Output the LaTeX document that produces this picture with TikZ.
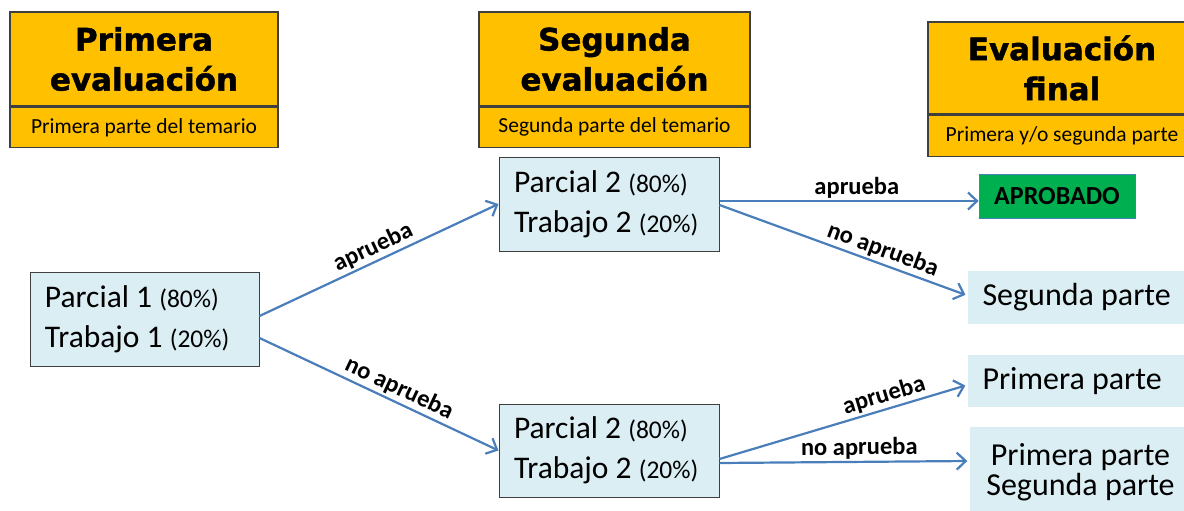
\documentclass[tikz,border=0pt]{standalone}
\usepackage{fontspec}
\setmainfont{Carlito}
\newfontfamily\titlefont{DejaVu Sans}[BoldFeatures={FakeBold=1.4}]
\usetikzlibrary{arrows.meta}
\definecolor{evalorange}{HTML}{FFC000}
\definecolor{boxblue}{HTML}{DBEEF4}
\definecolor{linkblue}{HTML}{4A7EBB}
\definecolor{okgreen}{HTML}{00B050}
\definecolor{edgegray}{HTML}{3F3F3F}
\newcommand{\pct}[1]{{\fontsize{25.5}{28}\selectfont #1}}

\begin{document}
\begin{tikzpicture}[x=1pt,y=-1pt,
    titlebox/.style={draw=edgegray, line width=1.3pt, fill=evalorange, align=center,
        inner sep=0pt, font=\titlefont\bfseries\fontsize{31}{40}\selectfont},
    subbox/.style={draw=edgegray, line width=1.3pt, fill=evalorange, inner sep=0pt,
        anchor=north, font=\fontsize{21.5}{24}\selectfont},
    pbox/.style={draw=edgegray, line width=1pt, fill=boxblue, align=flush left, inner xsep=15pt,
        font=\fontsize{31.5}{40}\selectfont},
    endbox/.style={fill=boxblue, inner xsep=15pt, font=\fontsize{32}{30}\selectfont},
    okbox/.style={draw=linkblue, line width=0.8pt, fill=okgreen, inner sep=0pt,
        font=\bfseries\fontsize{26}{28}\selectfont},
    link/.style={draw=linkblue, line width=2.2pt, -{Straight Barb[length=9pt,width=17pt]}},
    lbl/.style={font=\bfseries\fontsize{24.5}{26}\selectfont, sloped, above, inner sep=2pt}]
    \useasboundingbox (0,0) rectangle (1184,511);

    % Titles
    \node[titlebox, minimum width=268pt, minimum height=94pt] (t1) at (144,59) {Primera\\evaluación};
    \node[subbox, minimum width=268pt, minimum height=40pt] (s1) at (t1.south) {Primera parte del temario};
    \node[titlebox, minimum width=271pt, minimum height=94pt] (t2) at (614.5,59) {Segunda\\evaluación};
    \node[subbox, minimum width=271pt, minimum height=40pt] (s2) at (t2.south) {Segunda parte del temario};
    \node[titlebox, minimum width=268pt, minimum height=92pt] (t3) at (1062,68) {Evaluación\\final};
    \node[subbox, minimum width=268pt, minimum height=41pt] (s3) at (t3.south) {Primera y/o segunda parte};

    % Exams
    \node[pbox, text width=199pt, minimum height=94pt] (p1) at (144.5,319) {Parcial 1 \pct{(80\%)}\\Trabajo 1 \pct{(20\%)}};
    \node[pbox, text width=190pt, minimum height=94pt] (p2a) at (609,204) {Parcial 2 \pct{(80\%)}\\Trabajo 2 \pct{(20\%)}};
    \node[pbox, text width=190pt, minimum height=93pt] (p2b) at (609,450.5) {Parcial 2 \pct{(80\%)}\\Trabajo 2 \pct{(20\%)}};

    % Results
    \node[okbox, minimum width=156pt, minimum height=44pt] (apro) at (1057,196) {APROBADO};
    \node[endbox, text width=192pt, minimum height=53pt, align=flush left] (seg) at (1078.5,297.5) {Segunda parte};
    \node[endbox, text width=192pt, minimum height=52pt, align=flush left] (prim) at (1078.5,381) {Primera parte};
    \node[endbox, text width=192pt, minimum height=90pt, align=flush center] (both) at (1080.5,472) {Primera parte\\Segunda parte};

    % Arrows
    \draw[link] ([yshift=3pt]p1.east) -- (p2a.west) node[lbl, pos=0.5] {aprueba};
    \draw[link] ([yshift=-19pt]p1.east) -- (p2b.west) node[lbl, pos=0.56] {no aprueba};
    \draw[link] ([yshift=3pt]p2a.east) -- ([yshift=-5pt]apro.west) node[lbl, pos=0.53] {aprueba};
    \draw[link, shorten >=2pt] ([yshift=-1pt]p2a.east) -- ([yshift=2pt]seg.west) node[lbl, pos=0.64] {no aprueba};
    \draw[link, shorten >=2pt] ([yshift=-8.5pt]p2b.east) -- ([yshift=-4pt]prim.west) node[lbl, pos=0.68] {aprueba};
    \draw[link, shorten >=2pt] ([yshift=-12.5pt]p2b.east) -- ([yshift=11pt]both.west) node[lbl, pos=0.56] {no aprueba};
\end{tikzpicture}
\end{document}
